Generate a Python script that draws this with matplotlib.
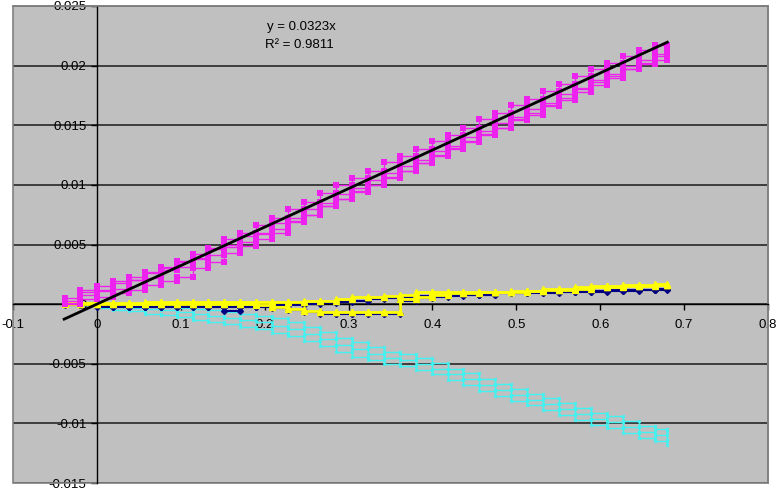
import matplotlib
matplotlib.use("Agg")
import matplotlib.pyplot as plt
from matplotlib.patches import Rectangle

plt.rcParams['font.family'] = ['Liberation Sans', 'DejaVu Sans']

# ---------------- data ----------------
step_x = [-0.038, -0.02, 0.0, 0.019, 0.038, 0.057, 0.076, 0.095, 0.114, 0.133,
          0.152, 0.171, 0.19, 0.209, 0.228, 0.247, 0.266, 0.285, 0.304, 0.323,
          0.342, 0.361, 0.38, 0.399, 0.418, 0.437, 0.456, 0.475, 0.494, 0.513,
          0.532, 0.551, 0.57, 0.589, 0.608, 0.627, 0.646, 0.665, 0.68]

mag_y1 = [0.0001, 0.0008, 0.0011, 0.0013, 0.0020, 0.0022, 0.0030, 0.0031, 0.0039, 0.0041,
          0.0050, 0.0052, 0.0060, 0.0063, 0.0072, 0.0075, 0.0085, 0.0088, 0.0097, 0.0100,
          0.0110, 0.0112, 0.0121, 0.0124, 0.0133, 0.0136, 0.0145, 0.0148, 0.0157, 0.0159,
          0.0169, 0.0171, 0.0181, 0.0184, 0.0193, 0.0197, 0.0205, 0.0208, 0.0213]
mag_y2 = [0.0005, 0.0012, 0.0015, 0.0019, 0.0023, 0.0026, 0.0031, 0.0035, 0.0042, 0.0047,
          0.0055, 0.0060, 0.0066, 0.0072, 0.0080, 0.0086, 0.0093, 0.0100, 0.0106, 0.0112,
          0.0119, 0.0124, 0.0130, 0.0137, 0.0142, 0.0148, 0.0155, 0.0160, 0.0167, 0.0172,
          0.0179, 0.0185, 0.0191, 0.0197, 0.0202, 0.0208, 0.0213, 0.0217, 0.0215]
mag_y3 = [0.0000, 0.0004, 0.0006, 0.0009, 0.0012, 0.0016, 0.0019, 0.0023, 0.0030, 0.0035,
          0.0043, 0.0049, 0.0055, 0.0060, 0.0069, 0.0075, 0.0082, 0.0088, 0.0095, 0.0100,
          0.0107, 0.0112, 0.0118, 0.0125, 0.0131, 0.0137, 0.0143, 0.0148, 0.0155, 0.0160,
          0.0167, 0.0173, 0.0180, 0.0186, 0.0191, 0.0197, 0.0201, 0.0205, 0.0207]
mag_y4 = [0.0003, 0.0010, 0.0012, 0.0018, 0.0020, 0.0027, 0.0029, 0.0036, 0.0038, 0.0046,
          0.0048, 0.0057, 0.0059, 0.0068, 0.0070, 0.0080, 0.0082, 0.0092, 0.0094, 0.0104,
          0.0106, 0.0116, 0.0118, 0.0128, 0.0130, 0.0140, 0.0142, 0.0152, 0.0154, 0.0164,
          0.0166, 0.0176, 0.0178, 0.0188, 0.0190, 0.0200, 0.0202, 0.0210, 0.0214]

cyan_x = step_x[1:]
cyan_y1 = [0.0000, -0.0001, -0.0002, -0.0003, -0.0004, -0.0005, -0.0007, -0.0008, -0.0010, -0.0012,
           -0.0013, -0.0015, -0.0018, -0.0021, -0.0025, -0.0029, -0.0034, -0.0038, -0.0042, -0.0045,
           -0.0047, -0.0050, -0.0054, -0.0059, -0.0063, -0.0068, -0.0072, -0.0076, -0.0080, -0.0084,
           -0.0088, -0.0092, -0.0096, -0.0099, -0.0103, -0.0107, -0.0110, -0.0114]
cyan_y2 = [0.0001, 0.0001, 0.0000, -0.0001, -0.0001, -0.0002, -0.0003, -0.0004, -0.0005, -0.0007,
           -0.0008, -0.0010, -0.0012, -0.0015, -0.0019, -0.0023, -0.0028, -0.0032, -0.0036, -0.0040,
           -0.0042, -0.0045, -0.0049, -0.0054, -0.0058, -0.0063, -0.0067, -0.0071, -0.0075, -0.0079,
           -0.0083, -0.0087, -0.0091, -0.0094, -0.0098, -0.0102, -0.0105, -0.0107]
cyan_y3 = [-0.0001, -0.0003, -0.0005, -0.0006, -0.0008, -0.0009, -0.0011, -0.0013, -0.0015, -0.0017,
           -0.0019, -0.0021, -0.0024, -0.0027, -0.0031, -0.0035, -0.0040, -0.0044, -0.0047, -0.0050,
           -0.0052, -0.0055, -0.0059, -0.0064, -0.0068, -0.0073, -0.0077, -0.0081, -0.0085, -0.0089,
           -0.0093, -0.0097, -0.0101, -0.0104, -0.0108, -0.0112, -0.0115, -0.0118]

yel_y1 = [0.0001, 0.0001, 0.0001, 0.0001, 0.0001, 0.0002, 0.0002, 0.0002, 0.0002, 0.0002,
          0.0002, 0.0002, 0.0002, 0.0002, 0.0002, 0.0003, 0.0003, 0.0004, 0.0006, 0.0006,
          0.0007, 0.0008, 0.0010, 0.0010, 0.0010, 0.0010, 0.0010, 0.0010, 0.0010, 0.0011,
          0.0013, 0.0013, 0.0014, 0.0015, 0.0015, 0.0016, 0.0016, 0.0017, 0.0016]
yel_y2 = [0.0000, 0.0000, 0.0000, 0.0000, 0.0000, 0.0000, 0.0000, 0.0000, 0.0000, 0.0000,
          0.0000, 0.0000, -0.0001, -0.0002, -0.0004, -0.0006, -0.0007, -0.0007, -0.0007, -0.0007,
          -0.0007, 0.0004, 0.0006, 0.0008, 0.0009, 0.0009, 0.0010, 0.0010, 0.0011, 0.0011,
          0.0012, 0.0012, 0.0013, 0.0014, 0.0014, 0.0015, 0.0015, 0.0016, 0.0016]

navy_y1 = [0.0000, -0.0001, -0.0001, -0.0001, -0.0002, -0.0002, -0.0001, -0.0001, -0.0001, -0.0002,
           -0.0006, -0.0002, -0.0001, -0.0001, -0.0001, 0.0000, 0.0001, 0.0002, 0.0003, 0.0004,
           0.0005, 0.0006, 0.0007, 0.0007, 0.0008, 0.0008, 0.0008, 0.0009, 0.0009, 0.0009,
           0.0009, 0.0010, 0.0010, 0.0010, 0.0011, 0.0011, 0.0012, 0.0012, 0.0013]
navy_y2 = [-0.0001, -0.0001, -0.0002, -0.0002, -0.0002, -0.0002, -0.0002, -0.0002, -0.0002, -0.0002,
           -0.0002, -0.0002, -0.0002, -0.0003, -0.0005, -0.0007, -0.0008, -0.0008, -0.0008, -0.0008,
           -0.0008, 0.0003, 0.0005, 0.0006, 0.0007, 0.0008, 0.0008, 0.0009, 0.0009, 0.0010,
           0.0010, 0.0010, 0.0011, 0.0011, 0.0012, 0.0012, 0.0012, 0.0013, 0.0013]

trend_slope = 0.0323
trend_x = [-0.039, 0.68]
trend_label = "y = 0.0323x"
r2_label = "R\u00b2 = 0.9811"

x_ticks = [-0.1, 0, 0.1, 0.2, 0.3, 0.4, 0.5, 0.6, 0.7, 0.8]
x_labels = ['-0.1', '0', '0.1', '0.2', '0.3', '0.4', '0.5', '0.6', '0.7', '0.8']
y_ticks = [-0.015, -0.01, -0.005, 0, 0.005, 0.01, 0.015, 0.02, 0.025]
y_labels = ['-0.015', '-0.01', '-0.005', '0', '0.005', '0.01', '0.015', '0.02', '0.025']


def stair(xs, ys):
    px, py = [xs[0]], [ys[0]]
    for k in range(1, len(xs)):
        px += [xs[k], xs[k]]
        py += [ys[k - 1], ys[k]]
    return px, py


# ---------------- figure ----------------
fig = plt.figure(figsize=(7.78, 4.94), dpi=100)
ax = fig.add_axes([13 / 778, 11 / 494, 755 / 778, 477 / 494])
ax.set_facecolor('#C0C0C0')
ax.set_xlim(-0.1, 0.8)
ax.set_ylim(-0.015, 0.025)

ax.set_yticks(y_ticks)
ax.set_yticklabels(y_labels)
ax.set_xticks(x_ticks)
ax.set_xticklabels(x_labels)
ax.yaxis.grid(True, color='#1a1a1a', lw=1.1, zorder=0)
ax.set_axisbelow(True)

for s in ['top', 'right']:
    ax.spines[s].set_color('#808080')
    ax.spines[s].set_linewidth(1.2)
ax.spines['left'].set_position(('data', 0))
ax.spines['bottom'].set_position(('data', 0))
ax.spines['left'].set_color('black')
ax.spines['bottom'].set_color('black')
ax.spines['left'].set_linewidth(1)
ax.spines['bottom'].set_linewidth(1)
ax.add_patch(Rectangle((0, 0), 1, 1, transform=ax.transAxes, fill=False,
                       ec='#808080', lw=1.2, clip_on=False, zorder=1))

ax.tick_params(axis='y', direction='out', length=4.5, width=1, pad=3,
               labelsize=9.5, colors='black')
ax.tick_params(axis='x', direction='out', length=4, width=1, pad=7,
               labelsize=9.5, colors='black')

# cyan series
for cy in (cyan_y1, cyan_y2, cyan_y3):
    px, py = stair(cyan_x, cy)
    ax.plot(px, py, color='#40F2F2', lw=1, marker='x', ms=2, mew=0.8, zorder=3)

# navy series
for ny in (navy_y1, navy_y2):
    px, py = stair(step_x, ny)
    ax.plot(px, py, color='#000080', lw=1.5, marker='D', ms=3, zorder=4)

# yellow series
for yy in (yel_y1, yel_y2):
    px, py = stair(step_x, yy)
    ax.plot(px, py, color='#FFFF00', lw=2, marker='^', ms=4.5, zorder=5)

# magenta series
for my in (mag_y1, mag_y2, mag_y3, mag_y4):
    px, py = stair(step_x, my)
    ax.plot(px, py, color='#EE22EE', lw=1, marker='s', ms=4, mew=0, zorder=6)

# trendline
ax.plot(trend_x, [trend_slope * v for v in trend_x], color='black', lw=2, zorder=7)

ax.text(0.336, 0.956, trend_label, transform=ax.transAxes, fontsize=9.5,
        ha='left', va='center')
ax.text(0.334, 0.918, r2_label, transform=ax.transAxes, fontsize=9.5,
        ha='left', va='center')

fig.savefig('out.png', dpi=100, facecolor='white')
